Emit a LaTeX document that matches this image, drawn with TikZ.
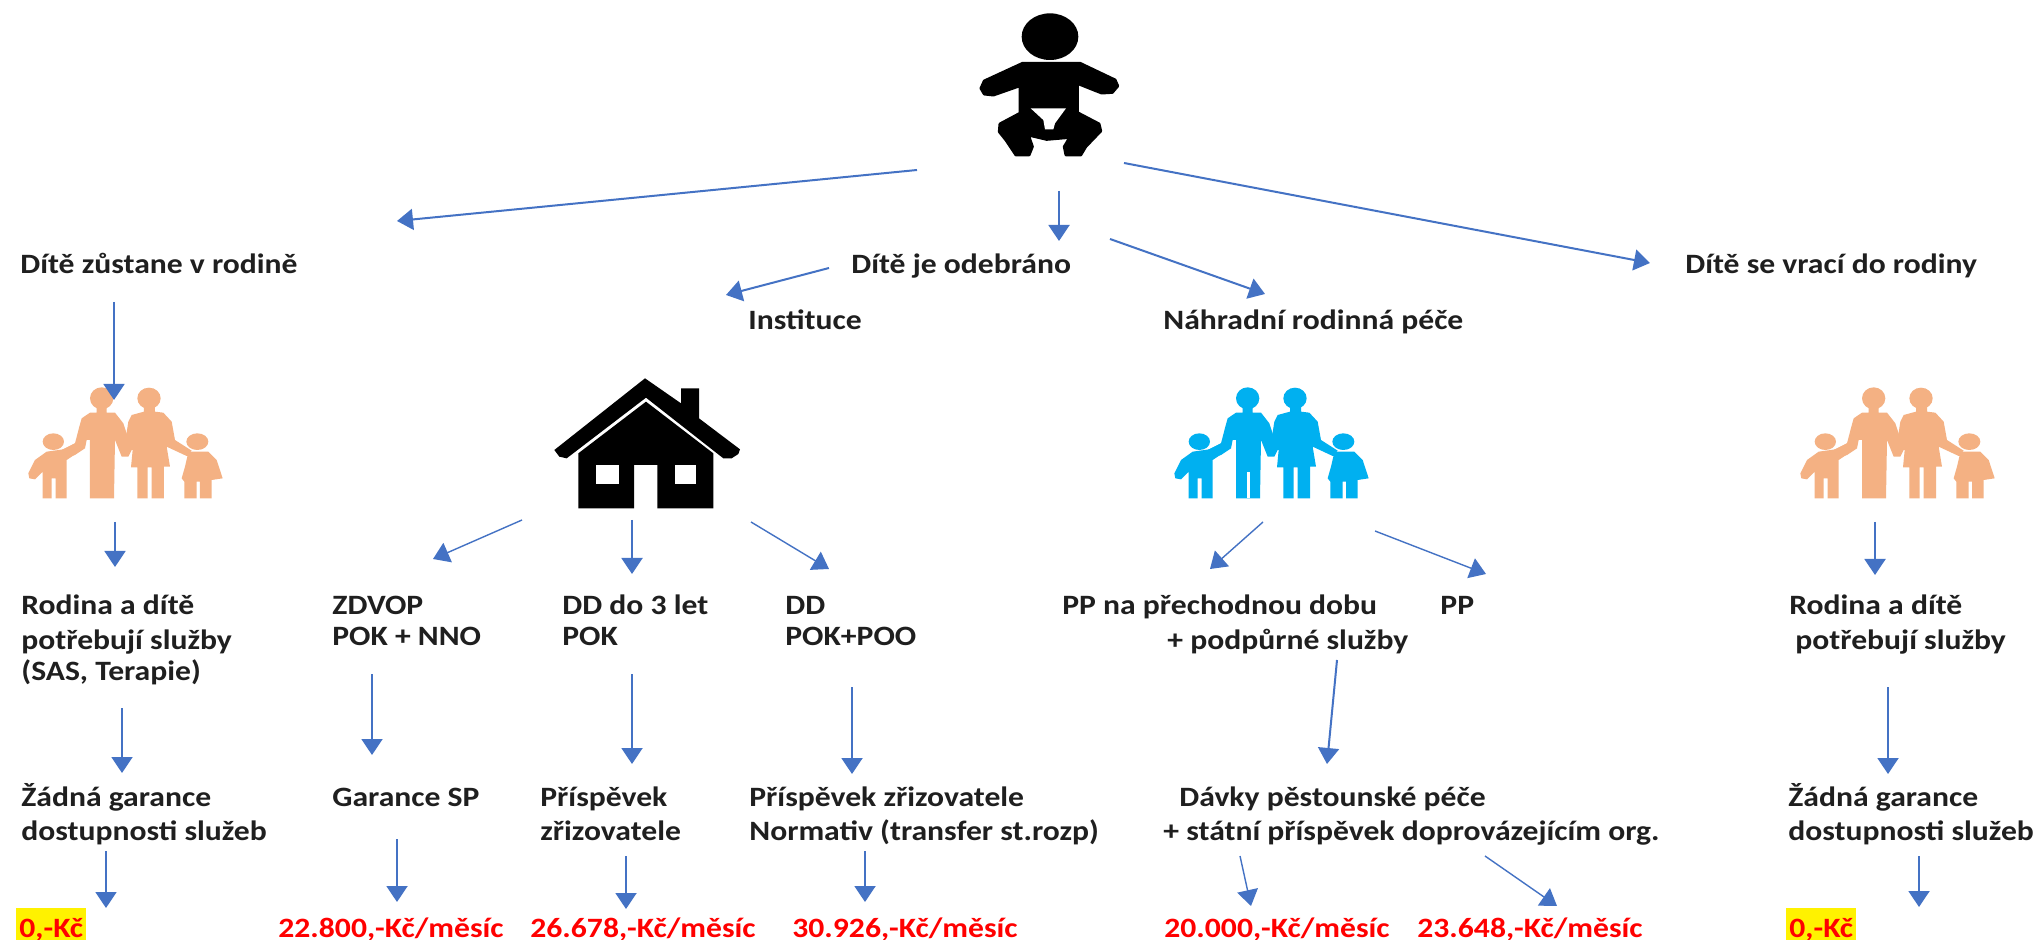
\documentclass[tikz,border=0pt]{standalone}
\usepackage{fontspec}
\setmainfont{Carlito}[BoldFeatures={FakeStretch=1.13}]
\usetikzlibrary{arrows.meta}
\definecolor{arrowblue}{HTML}{4472C4}
\definecolor{peach}{HTML}{F4B183}
\definecolor{skyb}{HTML}{00B0F0}
\definecolor{redtxt}{HTML}{FF0000}
\tikzset{
  lbl/.style={anchor=base west,inner sep=0pt,font=\fontsize{14}{16}\selectfont\bfseries,text=black!88},
  money/.style={anchor=base west,inner sep=0pt,font=\fontsize{14}{16}\selectfont\bfseries,text=redtxt},
  hilite/.style={money,fill=yellow,inner xsep=1.5pt,text height=14.5pt,text depth=1.5pt},
  arr/.style={draw=arrowblue,line width=1pt,-{Triangle[width=10.5pt,length=8pt]}},
  thinarr/.style={arr,line width=.7pt},
  pics/family/.style={code={
    \begin{scope}[fill=#1,draw=none]
    \fill (160,275) ellipse [x radius=32,y radius=25];
    \fill (85,370)--(105,330)--(140,305)--(190,298)--(225,280)--(240,290)--(230,310)--(200,330)--(200,445)--(167,445)--(167,385)--(155,385)--(155,445)--(128,445)--(128,365)--(105,388)--(88,385)--cycle;
    \fill (305,145) ellipse [x radius=35,y radius=33];
    \fill (290,170)--(320,170)--(320,188)--(345,188)--(370,220)--(385,265)--(395,300)--(385,320)--(365,320)--(345,270)--(342,445)--(270,445)--(270,270)--(260,270)--(255,295)--(225,315)--(190,325)--(185,300)--(225,280)--(238,230)--(245,205)--(270,188)--(290,188)--cycle;
    \fill (447,145) ellipse [x radius=35,y radius=32];
    \fill (395,195)--(432,185)--(432,165)--(465,165)--(465,185)--(490,188)--(515,215)--(525,270)--(575,302)--(560,318)--(500,290)--(510,350)--(492,350)--(492,445)--(455,445)--(455,352)--(443,352)--(443,445)--(412,445)--(412,352)--(393,352)--(398,300)--(385,300)--(378,260)--(385,215)--cycle;
    \fill (592,275) ellipse [x radius=33,y radius=25];
    \fill (560,305)--(625,305)--(650,330)--(668,385)--(635,390)--(635,445)--(600,445)--(600,395)--(590,395)--(590,445)--(553,445)--(553,395)--(545,385)--(555,350)--(562,320)--cycle;
    \end{scope}
  }},
}
\begin{document}
\begin{tikzpicture}[x=.5pt,y=-.5pt,line join=round]
\useasboundingbox (0,0) rectangle (2040,940);
\fill[white] (0,0) rectangle (2040,940);

% baby
\begin{scope}[shift={(900,0)},scale=1/3]
  \fill[black] (450,110) ellipse [x radius=85,y radius=70];
  \fill[black,draw=black,line width=1.5pt] (368,190)--(540,190)--(645,240)--(653,258)--(637,277)--(605,279)--(532,250)--(532,338)--(597,372)--(602,393)--(557,440)--(542,465)--(498,465)--(493,440)--(510,412)--(440,418)--(385,405)--(397,440)--(387,465)--(348,465)--(318,420)--(298,395)--(300,372)--(360,340)--(360,257)--(280,285)--(253,282)--(243,265)--(253,243)--cycle;
  \fill[white] (392,325)--(498,325)--(465,370)--(460,388)--(435,388)--(430,360)--cycle;
\end{scope}

% house
\begin{scope}[shift={(520,350)},scale=1/3]
  \fill[black] (375,85)--(483,160)--(483,115)--(537,115)--(537,205)--(660,298)--(655,312)--(635,325)--(610,325)--(378,143)--(140,325)--(118,320)--(103,300)--cycle;
  \fill[black] (378,155)--(580,310)--(580,475)--(412,475)--(412,345)--(342,345)--(342,475)--(175,475)--(175,310)--cycle;
  \fill[white] (227,345) rectangle (298,403);
  \fill[white] (465,345) rectangle (527,403);
\end{scope}

% families
\pic[shift={(0,350)},scale=1/3] {family=peach};
\pic[shift={(1772,350)},scale=1/3] {family=peach};
\pic[shift={(1146,350)},scale=1/3] {family=skyb};
\fill[white] (1247,472) rectangle (1250,498);

% labels
\node[lbl] (stay) at (20,274) {Dítě zůstane v rodině};
\node[lbl] (taken) at (851,274) {Dítě je odebráno};
\node[lbl] (inst) at (748,330) {Instituce};
\node[lbl] (nrp) at (1163,330) {Náhradní rodinná péče};
\node[lbl] (back) at (1685,274) {Dítě se vrací do rodiny};
\node[lbl] (r1a) at (21,615) {Rodina a dítě};
\node[lbl] (r1b) at (21,649) {potřebují služby};
\node[lbl] (r1c) at (21,681) {(SAS, Terapie)};
\node[lbl] (z1) at (332,615) {ZDVOP};
\node[lbl] (z2) at (332,646) {POK + NNO};
\node[lbl] (d1) at (562,615) {DD do 3 let};
\node[lbl] (d2) at (562,646) {POK};
\node[lbl] (e1) at (785,615) {DD};
\node[lbl] (e2) at (785,646) {POK+POO};
\node[lbl] (p1) at (1062,615) {PP na přechodnou dobu};
\node[lbl] (p2) at (1167,649) {+ podpůrné služby};
\node[lbl] (pp) at (1440,615) {PP};
\node[lbl] (r2a) at (1789,615) {Rodina a dítě};
\node[lbl] (r2b) at (1795,650) {potřebují služby};
\node[lbl] (g1a) at (21,806) {Žádná garance};
\node[lbl] (g1b) at (21,840) {dostupnosti služeb};
\node[lbl] (gsp) at (332,806) {Garance SP};
\node[lbl] (pr1) at (540,806) {Příspěvek};
\node[lbl] (pr2) at (540,840) {zřizovatele};
\node[lbl] (q1) at (749,806) {Příspěvek zřizovatele};
\node[lbl] (q2) at (749,840) {Normativ (transfer st.rozp)};
\node[lbl] (b1) at (1179,806) {Dávky pěstounské péče};
\node[lbl] (b2) at (1163,840) {+ státní příspěvek doprovázejícím org.};
\node[lbl] (g2a) at (1788,806) {Žádná garance};
\node[lbl] (g2b) at (1788,840) {dostupnosti služeb};

\node[hilite] (m0) at (16,937) {0,-Kč};
\node[money] (m1) at (278,937) {22.800,-Kč/měsíc};
\node[money] (m2) at (530,937) {26.678,-Kč/měsíc};
\node[money] (m3) at (792,937) {30.926,-Kč/měsíc};
\node[money] (m4) at (1164,937) {20.000,-Kč/měsíc};
\node[money] (m5) at (1417,937) {23.648,-Kč/měsíc};
\node[hilite] (m6) at (1786,937) {0,-Kč};

% connector ends
\coordinate (a1s) at (917,170);  \coordinate (a1e) at (397,221);
\coordinate (a2s) at (1059,191); \coordinate (a2e) at (1059,241);
\coordinate (a3s) at (1124,163); \coordinate (a3e) at (1650,263);
\coordinate (a4s) at (829,268);  \coordinate (a4e) at (726,295);
\coordinate (a5s) at (1110,239); \coordinate (a5e) at (1265,294);
\coordinate (a6s) at (114,302);  \coordinate (a6e) at (114,400);
\coordinate (a7s) at (115,522);  \coordinate (a7e) at (115,567);
\coordinate (a8s) at (122,708);  \coordinate (a8e) at (122,773);
\coordinate (a9s) at (106,851);  \coordinate (a9e) at (106,908);
\coordinate (b1s) at (522,520);  \coordinate (b1e) at (433,559);
\coordinate (b2s) at (632,520);  \coordinate (b2e) at (632,574);
\coordinate (b3s) at (751,522);  \coordinate (b3e) at (829,569);
\coordinate (b4s) at (1263,522); \coordinate (b4e) at (1210,569);
\coordinate (b5s) at (1375,531); \coordinate (b5e) at (1486,574);
\coordinate (b6s) at (1875,522); \coordinate (b6e) at (1875,575);
\coordinate (c1s) at (372,674);  \coordinate (c1e) at (372,755);
\coordinate (c2s) at (632,674);  \coordinate (c2e) at (632,764);
\coordinate (c3s) at (852,687);  \coordinate (c3e) at (852,774);
\coordinate (c4s) at (1337,660); \coordinate (c4e) at (1327,764);
\coordinate (c5s) at (1888,687); \coordinate (c5e) at (1888,774);
\coordinate (d1s) at (397,839);  \coordinate (d1e) at (397,902);
\coordinate (d2s) at (626,856);  \coordinate (d2e) at (626,909);
\coordinate (d3s) at (865,851);  \coordinate (d3e) at (865,902);
\coordinate (d4s) at (1240,856); \coordinate (d4e) at (1251,906);
\coordinate (d5s) at (1485,856); \coordinate (d5e) at (1557,906);
\coordinate (d6s) at (1919,856); \coordinate (d6e) at (1919,907);

\foreach \n in {a1,a2,a3,a4,a5,a6,a7,a8,a9,b2,b6,c1,c2,c3,c4,c5,d1,d2,d3,d6}
  \draw[arr] (\n s) -- (\n e);
\foreach \n in {b1,b3,b4,b5,d4,d5}
  \draw[thinarr] (\n s) -- (\n e);
\end{tikzpicture}
\end{document}
